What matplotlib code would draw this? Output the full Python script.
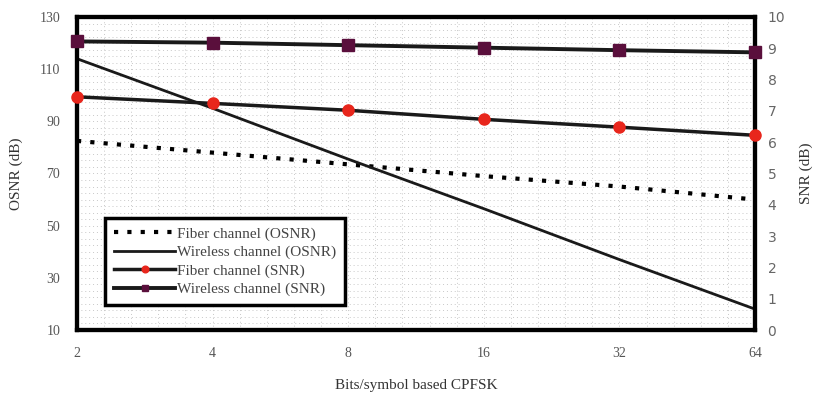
# OSNR / SNR vs bits per symbol (CPFSK), twin y axes
import numpy as np
import matplotlib.pyplot as plt
from matplotlib.ticker import MultipleLocator

# ---- data ----
bits = [2, 4, 8, 16, 32, 64]
fiber_osnr = [82.5, 78.0, 73.5, 69.0, 65.0, 60.0]
wireless_osnr = [114.0, 95.0, 75.5, 56.5, 37.0, 18.0]
fiber_snr = [7.45, 7.24, 7.02, 6.73, 6.48, 6.22]
wireless_snr = [9.22, 9.18, 9.10, 9.02, 8.94, 8.87]

labels = ["Fiber channel (OSNR)", "Wireless channel (OSNR)",
          "Fiber channel (SNR)", "Wireless channel (SNR)"]

plt.rcParams['font.family'] = ['Liberation Serif', 'DejaVu Serif']

fig = plt.figure(figsize=(8.14, 4.0), dpi=100)
ax = fig.add_axes([0.0946, 0.175, 0.833, 0.7825])
ax2 = ax.twinx()

x = np.arange(len(bits))

# left axis: OSNR
l1, = ax.plot(x, fiber_osnr, color="black", lw=3, linestyle=(0, (1, 2.2)),
              dash_capstyle="butt", label=labels[0])
l2, = ax.plot(x, wireless_osnr, color="#1a1a1a", lw=2, label=labels[1])

# right axis: SNR
l3, = ax2.plot(x, fiber_snr, color="#1a1a1a", lw=2.5, marker="o", ms=8,
               mfc="#e8261c", mec="#e8261c", label=labels[2], clip_on=False, zorder=5)
l4, = ax2.plot(x, wireless_snr, color="#1a1a1a", lw=2.8, marker="s", ms=8,
               mfc="#5a0f3c", mec="#5a0f3c", label=labels[3], clip_on=False, zorder=5)

ax.set_xlim(0, len(bits) - 1)
ax.set_ylim(10, 130)
ax2.set_ylim(0, 10)
ax.set_xticks(x)
ax.set_xticklabels([str(b) for b in bits])
ax.set_yticks(np.arange(10, 131, 20))
ax2.set_yticks(np.arange(0, 11, 1))

# faint dotted grid
ax.yaxis.set_minor_locator(MultipleLocator(2.5))
ax.xaxis.set_minor_locator(MultipleLocator(0.2))
ax.grid(True, which="both", color="#c8c8c8", linestyle=(0, (1, 3)), lw=0.7)
ax.set_axisbelow(True)

for a in (ax, ax2):
    for sp in a.spines.values():
        sp.set_linewidth(3)
        sp.set_color("black")
    a.tick_params(which="both", length=0, colors="#555555", labelsize=10)
ax.tick_params(axis="y", pad=12)
ax.tick_params(axis="x", pad=12)
ax2.tick_params(axis="y", pad=9)
for t in ax2.get_yticklabels():
    t.set_family("DejaVu Sans")
    t.set_color("#666666")

ax.set_ylabel("OSNR (dB)", fontsize=11, color="#333333", labelpad=12)
ax2.set_ylabel("SNR (dB)", fontsize=11, color="#333333", labelpad=10)
ax.set_xlabel("Bits/symbol based CPFSK", fontsize=11, color="#333333", labelpad=14)

leg = ax2.legend(handles=[l1, l2, l3, l4], loc="lower left",
                 bbox_to_anchor=(0.03, 0.054), fontsize=11, frameon=True,
                 fancybox=False, handlelength=4.0, handletextpad=0.1,
                 borderpad=0.6, labelspacing=0.3, markerscale=0.6,
                 framealpha=1)
leg.get_frame().set_edgecolor("black")
leg.get_frame().set_linewidth(2.5)
for t in leg.get_texts():
    t.set_color("#444444")

fig.savefig("out.png", dpi=100)
